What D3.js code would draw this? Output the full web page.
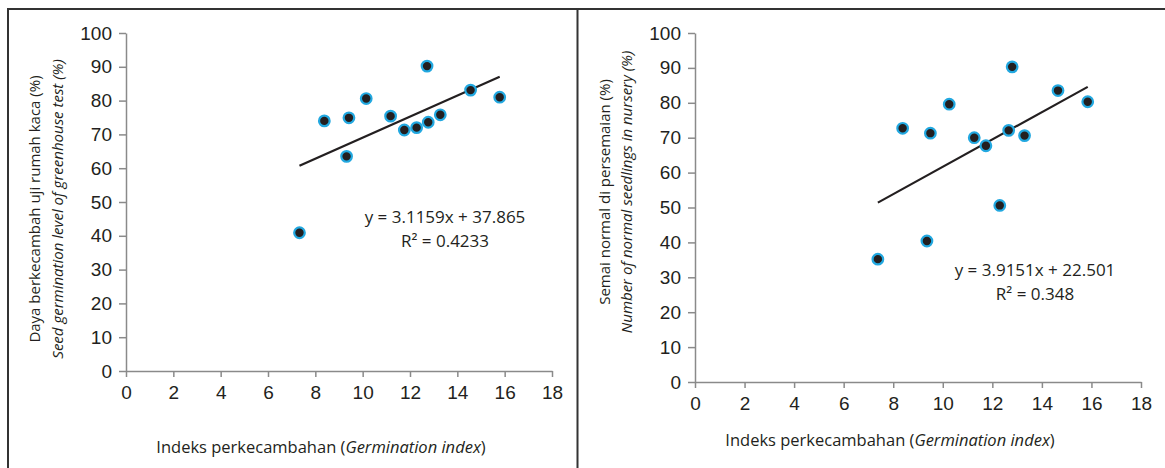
<!DOCTYPE html>
<html>
<head>
<meta charset="utf-8">
<script src="https://cdn.jsdelivr.net/npm/d3@7"></script>
<style>
  body { margin: 0; background: #fff; }
  svg { display: block; font-family: "Open Sans", sans-serif; }
  .axis path, .axis line { stroke: #8a8a8a; stroke-width: 1.5; }
  .axis text { fill: #231f20; font-size: 19px; }
</style>
</head>
<body>
<svg id="chart" width="1165" height="468"></svg>
<script>
// germination index vs greenhouse germination (left panel)
const gi_left = [7.33, 8.38, 9.32, 9.42, 10.15, 11.18, 11.76, 12.28, 12.72, 12.77, 13.28, 14.56, 15.79];
const greenhouse = [40.9, 74.0, 63.5, 74.9, 80.6, 75.4, 71.3, 72.0, 90.2, 73.6, 75.8, 83.1, 81.0];

// germination index vs normal seedlings in nursery (right panel)
const gi_right = [7.38, 8.38, 9.36, 9.5, 10.26, 11.27, 11.74, 12.3, 12.66, 12.8, 13.3, 14.65, 15.85];
const nursery = [35.2, 72.7, 40.4, 71.3, 79.6, 70.0, 67.7, 50.6, 72.1, 90.3, 70.6, 83.5, 80.3];

// trendline coefficients as printed
const fitLeft = {slope: 3.1159, intercept: 37.865, r2: '0.4233'};
const fitRight = {slope: 3.9151, intercept: 22.501, r2: '0.348'};

const xTicks = [0, 2, 4, 6, 8, 10, 12, 14, 16, 18];
const yTicks = [0, 10, 20, 30, 40, 50, 60, 70, 80, 90, 100];
const xTitle = ['Indeks perkecambahan (', 'Germination index', ')'];

const svg = d3.select('#chart');

// frame lines
svg.append('line').attr('x1', 8).attr('x2', 1165).attr('y1', 9).attr('y2', 9)
  .attr('stroke', '#333').attr('stroke-width', 2);
svg.append('line').attr('x1', 8).attr('x2', 8).attr('y1', 8).attr('y2', 468)
  .attr('stroke', '#333').attr('stroke-width', 2);
svg.append('line').attr('x1', 577.5).attr('x2', 577.5).attr('y1', 8).attr('y2', 468)
  .attr('stroke', '#333').attr('stroke-width', 2);

function drawPanel (cfg) {
  const x = d3.scaleLinear().domain([0, 18]).range([cfg.left, cfg.right]);
  const y = d3.scaleLinear().domain([0, 100]).range([cfg.bottom, cfg.top]);
  const g = svg.append('g');

  g.append('g')
    .attr('class', 'axis')
    .attr('transform', `translate(0,${cfg.bottom})`)
    .call(d3.axisBottom(x).tickValues(xTicks).tickSize(6).tickPadding(9).tickSizeOuter(0));

  g.append('g')
    .attr('class', 'axis')
    .attr('transform', `translate(${cfg.left},0)`)
    .call(d3.axisLeft(y).tickValues(yTicks).tickSize(7).tickPadding(7).tickSizeOuter(0));

  // trend line over the data range
  const ext = d3.extent(cfg.xs);
  g.append('line')
    .attr('x1', x(ext[0])).attr('y1', y(cfg.fit.slope * ext[0] + cfg.fit.intercept))
    .attr('x2', x(ext[1])).attr('y2', y(cfg.fit.slope * ext[1] + cfg.fit.intercept))
    .attr('stroke', '#231f20').attr('stroke-width', 2.2);

  g.append('g')
    .selectAll('circle')
    .data(cfg.xs.map((d, i) => [d, cfg.ys[i]]))
    .enter().append('circle')
    .attr('cx', d => x(d[0]))
    .attr('cy', d => y(d[1]))
    .attr('r', 5.3)
    .attr('fill', '#231f20')
    .attr('stroke', '#22a8e0')
    .attr('stroke-width', 2.2);

  // equation, two separate lines
  g.append('text')
    .attr('x', cfg.eqX).attr('y', cfg.eqY - 2)
    .attr('text-anchor', 'middle')
    .style('font-size', '17px')
    .attr('fill', '#231f20')
    .text(`y = ${cfg.fit.slope}x + ${cfg.fit.intercept}`);
  g.append('text')
    .attr('x', cfg.eqX).attr('y', cfg.eqY + 21.5)
    .attr('text-anchor', 'middle')
    .style('font-size', '17px')
    .attr('fill', '#231f20')
    .text(`R² = ${cfg.fit.r2}`);

  // x title
  const xt = g.append('text')
    .attr('x', cfg.xTitleX).attr('y', cfg.xTitleY)
    .attr('text-anchor', 'middle')
    .style('font-size', '16.5px')
    .attr('fill', '#231f20');
  xt.append('tspan').text(xTitle[0]);
  xt.append('tspan').style('font-style', 'italic').text(xTitle[1]);
  xt.append('tspan').text(xTitle[2]);

  // y titles, two lines
  cfg.yTitle.forEach((t, i) => {
    g.append('text')
      .attr('transform', `translate(${cfg.yTitleX[i]},${cfg.yTitleY}) rotate(-90)`)
      .attr('text-anchor', 'middle')
      .attr('dy', '0.35em')
      .style('font-size', '15px')
      .style('font-style', i === 1 ? 'italic' : null)
      .attr('fill', '#231f20')
      .text(t);
  });
}

drawPanel({
  left: 126, right: 552, top: 33, bottom: 371,
  xs: gi_left, ys: greenhouse, fit: fitLeft,
  eqX: 445, eqY: 225,
  xTitleX: 321, xTitleY: 453,
  yTitle: ['Daya berkecambah uji rumah kaca (%)', 'Seed germination level of greenhouse test (%)'],
  yTitleX: [35, 58], yTitleY: 209
});

drawPanel({
  left: 695, right: 1141, top: 33, bottom: 382,
  xs: gi_right, ys: nursery, fit: fitRight,
  eqX: 1035, eqY: 278,
  xTitleX: 890, xTitleY: 446,
  yTitle: ['Semai normal di persemaian (%)', 'Number of normal seedlings in nursery (%)'],
  yTitleX: [605, 627], yTitleY: 192
});
</script>
</body>
</html>
